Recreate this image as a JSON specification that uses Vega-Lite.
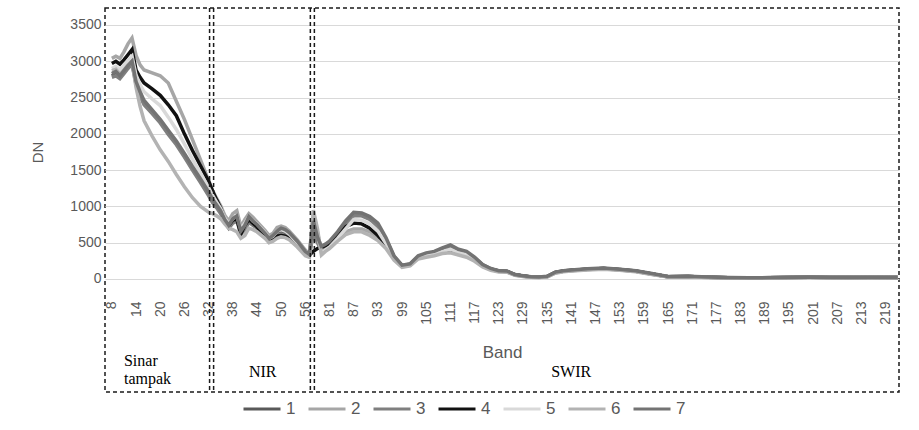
{
  "$schema": "https://vega.github.io/schema/vega-lite/v6.json",
  "width": 794,
  "height": 384,
  "autosize": {"type": "none"},
  "padding": {"left": 105, "top": 8, "right": 20, "bottom": 38},
  "background": "white",
  "config": {
    "font": "Liberation Sans",
    "view": {"stroke": "#1a1a1a", "strokeDash": [4, 3], "strokeWidth": 1.5}
  },
  "datasets": {
    "spectra": [
      {"band": 8, "1": 2800, "2": 3040, "3": 2780, "4": 2970, "5": 2900, "6": 2870, "7": 2830},
      {"band": 9, "1": 2830, "2": 3070, "3": 2800, "4": 3000, "5": 2930, "6": 2890, "7": 2860},
      {"band": 10, "1": 2780, "2": 3040, "3": 2760, "4": 2960, "5": 2880, "6": 2820, "7": 2800},
      {"band": 11, "1": 2850, "2": 3130, "3": 2830, "4": 3020, "5": 2950, "6": 2880, "7": 2870},
      {"band": 12, "1": 2920, "2": 3240, "3": 2900, "4": 3090, "5": 3010, "6": 2950, "7": 2940},
      {"band": 13, "1": 2980, "2": 3320, "3": 2960, "4": 3160, "5": 3070, "6": 3000, "7": 3000},
      {"band": 14, "1": 2700, "2": 3080, "3": 2680, "4": 2880, "5": 2810, "6": 2640, "7": 2720},
      {"band": 15, "1": 2560, "2": 2950, "3": 2520, "4": 2780, "5": 2680, "6": 2380, "7": 2580},
      {"band": 16, "1": 2440, "2": 2880, "3": 2400, "4": 2700, "5": 2580, "6": 2180, "7": 2460},
      {"band": 18, "1": 2300, "2": 2840, "3": 2280, "4": 2620, "5": 2480, "6": 1970, "7": 2330},
      {"band": 20, "1": 2180, "2": 2800, "3": 2150, "4": 2530, "5": 2390, "6": 1780, "7": 2200},
      {"band": 22, "1": 2020, "2": 2700, "3": 1990, "4": 2400, "5": 2230, "6": 1620, "7": 2050},
      {"band": 24, "1": 1880, "2": 2450, "3": 1850, "4": 2250, "5": 2060, "6": 1440, "7": 1900},
      {"band": 26, "1": 1710, "2": 2200, "3": 1680, "4": 2000, "5": 1860, "6": 1270, "7": 1730},
      {"band": 28, "1": 1530, "2": 1920, "3": 1500, "4": 1770, "5": 1650, "6": 1120, "7": 1550},
      {"band": 30, "1": 1360, "2": 1640, "3": 1330, "4": 1560, "5": 1460, "6": 1000, "7": 1380},
      {"band": 32, "1": 1180, "2": 1360, "3": 1150, "4": 1350, "5": 1260, "6": 920, "7": 1200},
      {"band": 33, "1": 1080, "2": 1220, "3": 1050, "4": 1210, "5": 1150, "6": 900, "7": 1100},
      {"band": 34, "1": 1000, "2": 1110, "3": 980, "4": 1090, "5": 1060, "6": 870, "7": 1020},
      {"band": 35, "1": 920, "2": 1010, "3": 900, "4": 980, "5": 970, "6": 830, "7": 940},
      {"band": 36, "1": 800, "2": 880, "3": 780, "4": 820, "5": 840, "6": 760, "7": 820},
      {"band": 37, "1": 720, "2": 800, "3": 700, "4": 740, "5": 760, "6": 700, "7": 740},
      {"band": 38, "1": 790, "2": 900, "3": 770, "4": 810, "5": 830, "6": 680, "7": 830},
      {"band": 39, "1": 830, "2": 940, "3": 800, "4": 830, "5": 870, "6": 650, "7": 870},
      {"band": 40, "1": 640, "2": 720, "3": 620, "4": 620, "5": 690, "6": 560, "7": 660},
      {"band": 41, "1": 700, "2": 820, "3": 680, "4": 740, "5": 770, "6": 600, "7": 740},
      {"band": 42, "1": 800, "2": 900, "3": 780, "4": 820, "5": 860, "6": 700, "7": 860},
      {"band": 43, "1": 760, "2": 850, "3": 740, "4": 770, "5": 800, "6": 680, "7": 800},
      {"band": 44, "1": 720, "2": 790, "3": 700, "4": 720, "5": 760, "6": 650, "7": 750},
      {"band": 46, "1": 600, "2": 670, "3": 580, "4": 590, "5": 640, "6": 560, "7": 630},
      {"band": 47, "1": 520, "2": 600, "3": 510, "4": 520, "5": 560, "6": 500, "7": 560},
      {"band": 48, "1": 560, "2": 630, "3": 540, "4": 540, "5": 590, "6": 520, "7": 600},
      {"band": 49, "1": 630, "2": 710, "3": 600, "4": 590, "5": 660, "6": 560, "7": 660},
      {"band": 50, "1": 650, "2": 730, "3": 620, "4": 600, "5": 680, "6": 580, "7": 700},
      {"band": 51, "1": 630, "2": 710, "3": 600, "4": 590, "5": 660, "6": 570, "7": 680},
      {"band": 52, "1": 590, "2": 660, "3": 560, "4": 560, "5": 620, "6": 540, "7": 640},
      {"band": 54, "1": 480, "2": 540, "3": 460, "4": 460, "5": 500, "6": 440, "7": 520},
      {"band": 56, "1": 360, "2": 400, "3": 350, "4": 360, "5": 380, "6": 320, "7": 380},
      {"band": 57, "1": 320, "2": 340, "3": 310, "4": 330, "5": 330, "6": 300, "7": 340},
      {"band": 77, "1": 700, "2": 900, "3": 650, "4": 380, "5": 880, "6": 950, "7": 800},
      {"band": 78, "1": 550, "2": 650, "3": 500, "4": 420, "5": 620, "6": 700, "7": 580},
      {"band": 79, "1": 420, "2": 380, "3": 400, "4": 440, "5": 360, "6": 330, "7": 450},
      {"band": 80, "1": 450, "2": 420, "3": 430, "4": 460, "5": 400, "6": 380, "7": 480},
      {"band": 81, "1": 490, "2": 460, "3": 470, "4": 490, "5": 440, "6": 420, "7": 520},
      {"band": 83, "1": 620, "2": 560, "3": 600, "4": 610, "5": 560, "6": 520, "7": 650},
      {"band": 85, "1": 770, "2": 650, "3": 750, "4": 720, "5": 690, "6": 610, "7": 800},
      {"band": 87, "1": 890, "2": 690, "3": 870, "4": 770, "5": 820, "6": 650, "7": 920},
      {"band": 89, "1": 890, "2": 690, "3": 870, "4": 760, "5": 810, "6": 650, "7": 910},
      {"band": 91, "1": 840, "2": 650, "3": 820, "4": 700, "5": 760, "6": 600, "7": 860},
      {"band": 93, "1": 740, "2": 570, "3": 720, "4": 600, "5": 660, "6": 530, "7": 770},
      {"band": 95, "1": 550, "2": 450, "3": 530, "4": 460, "5": 490, "6": 420, "7": 570},
      {"band": 97, "1": 310, "2": 280, "3": 300, "4": 290, "5": 290, "6": 260, "7": 320},
      {"band": 99, "1": 185, "2": 170, "3": 180, "4": 175, "5": 175, "6": 160, "7": 190},
      {"band": 101, "1": 205, "2": 190, "3": 200, "4": 195, "5": 195, "6": 180, "7": 210},
      {"band": 103, "1": 305, "2": 290, "3": 300, "4": 295, "5": 290, "6": 275, "7": 320},
      {"band": 105, "1": 345, "2": 320, "3": 340, "4": 330, "5": 325, "6": 300, "7": 360},
      {"band": 107, "1": 365, "2": 340, "3": 360, "4": 350, "5": 345, "6": 320, "7": 380},
      {"band": 109, "1": 415, "2": 370, "3": 400, "4": 380, "5": 380, "6": 350, "7": 430},
      {"band": 111, "1": 455, "2": 390, "3": 440, "4": 400, "5": 410, "6": 360, "7": 470},
      {"band": 113, "1": 400, "2": 350, "3": 390, "4": 360, "5": 365, "6": 330, "7": 410},
      {"band": 115, "1": 370, "2": 320, "3": 360, "4": 330, "5": 335, "6": 300, "7": 380},
      {"band": 117, "1": 290, "2": 260, "3": 285, "4": 270, "5": 265, "6": 245, "7": 300},
      {"band": 119, "1": 195, "2": 175, "3": 190, "4": 180, "5": 180, "6": 165, "7": 200},
      {"band": 121, "1": 140, "2": 130, "3": 140, "4": 135, "5": 130, "6": 120, "7": 145},
      {"band": 123, "1": 110, "2": 105, "3": 110, "4": 108, "5": 104, "6": 98, "7": 115},
      {"band": 125, "1": 105, "2": 100, "3": 105, "4": 103, "5": 100, "6": 95, "7": 110},
      {"band": 127, "1": 60, "2": 55, "3": 60, "4": 58, "5": 55, "6": 50, "7": 62},
      {"band": 129, "1": 42, "2": 38, "3": 42, "4": 40, "5": 38, "6": 35, "7": 45},
      {"band": 131, "1": 28, "2": 25, "3": 28, "4": 27, "5": 25, "6": 23, "7": 30},
      {"band": 133, "1": 25, "2": 22, "3": 25, "4": 24, "5": 22, "6": 20, "7": 27},
      {"band": 135, "1": 35, "2": 30, "3": 35, "4": 33, "5": 31, "6": 28, "7": 38},
      {"band": 137, "1": 90, "2": 85, "3": 90, "4": 88, "5": 85, "6": 80, "7": 95},
      {"band": 139, "1": 110, "2": 105, "3": 110, "4": 108, "5": 105, "6": 100, "7": 115},
      {"band": 141, "1": 120, "2": 115, "3": 120, "4": 118, "5": 115, "6": 110, "7": 125},
      {"band": 145, "1": 135, "2": 130, "3": 135, "4": 133, "5": 130, "6": 125, "7": 140},
      {"band": 149, "1": 145, "2": 140, "3": 145, "4": 143, "5": 140, "6": 135, "7": 150},
      {"band": 153, "1": 130, "2": 125, "3": 130, "4": 128, "5": 125, "6": 120, "7": 135},
      {"band": 157, "1": 110, "2": 105, "3": 110, "4": 108, "5": 105, "6": 100, "7": 115},
      {"band": 161, "1": 70, "2": 65, "3": 70, "4": 68, "5": 65, "6": 60, "7": 75},
      {"band": 165, "1": 32, "2": 30, "3": 32, "4": 31, "5": 30, "6": 28, "7": 34},
      {"band": 170, "1": 35, "2": 32, "3": 35, "4": 34, "5": 32, "6": 30, "7": 37},
      {"band": 175, "1": 25, "2": 22, "3": 25, "4": 24, "5": 22, "6": 20, "7": 27},
      {"band": 180, "1": 18, "2": 16, "3": 18, "4": 17, "5": 16, "6": 14, "7": 19},
      {"band": 185, "1": 15, "2": 13, "3": 15, "4": 14, "5": 13, "6": 12, "7": 16},
      {"band": 190, "1": 18, "2": 16, "3": 18, "4": 17, "5": 16, "6": 14, "7": 19},
      {"band": 195, "1": 22, "2": 20, "3": 22, "4": 21, "5": 20, "6": 18, "7": 23},
      {"band": 200, "1": 24, "2": 22, "3": 24, "4": 23, "5": 22, "6": 20, "7": 25},
      {"band": 205, "1": 22, "2": 20, "3": 22, "4": 21, "5": 20, "6": 18, "7": 23},
      {"band": 210, "1": 20, "2": 18, "3": 20, "4": 19, "5": 18, "6": 16, "7": 21},
      {"band": 215, "1": 22, "2": 20, "3": 22, "4": 21, "5": 20, "6": 18, "7": 23},
      {"band": 222, "1": 20, "2": 18, "3": 20, "4": 19, "5": 18, "6": 16, "7": 21}
    ],
    "dividers": [{"band": 32}, {"band": 33}, {"band": 57}, {"band": 77}],
    "regions": [
      {"band": 11, "DN": -1199, "label": "Sinar\ntampak"},
      {"band": 42, "DN": -1350, "label": "NIR"},
      {"band": 136, "DN": -1350, "label": "SWIR"}
    ]
  },
  "encoding": {
    "x": {
      "field": "band",
      "type": "ordinal",
      "scale": {
        "type": "point",
        "padding": 2.475,
        "align": 0.85,
        "domain": [8,9,10,11,12,13,14,15,16,17,18,19,20,21,22,23,24,25,26,27,28,29,30,31,32,33,34,35,36,37,38,39,40,41,42,43,44,45,46,47,48,49,50,51,52,53,54,55,56,57,77,78,79,80,81,82,83,84,85,86,87,88,89,90,91,92,93,94,95,96,97,98,99,100,101,102,103,104,105,106,107,108,109,110,111,112,113,114,115,116,117,118,119,120,121,122,123,124,125,126,127,128,129,130,131,132,133,134,135,136,137,138,139,140,141,142,143,144,145,146,147,148,149,150,151,152,153,154,155,156,157,158,159,160,161,162,163,164,165,166,167,168,169,170,171,172,173,174,175,176,177,178,179,180,181,182,183,184,185,186,187,188,189,190,191,192,193,194,195,196,197,198,199,200,201,202,203,204,205,206,207,208,209,210,211,212,213,214,215,216,217,218,219,220,221,222]
      },
      "axis": {
        "orient": "bottom",
        "offset": -113,
        "values": [8,14,20,26,32,38,44,50,56,81,87,93,99,105,111,117,123,129,135,141,147,153,159,165,171,177,183,189,195,201,207,213,219],
        "labelAngle": -90,
        "labelPadding": 22,
        "labelFontSize": 14,
        "labelColor": "#595959",
        "ticks": false,
        "domain": false,
        "grid": false,
        "title": "Band",
        "titleFontSize": 17,
        "titleFontWeight": "normal",
        "titleColor": "#595959",
        "titlePadding": 20
      }
    }
  },
  "layer": [
    {
      "data": {"name": "spectra"},
      "transform": [{"fold": ["1", "2", "3", "4", "5", "6", "7"], "as": ["seri", "DN"]}],
      "mark": {"type": "line", "strokeWidth": 3.5},
      "encoding": {
        "y": {
          "field": "DN",
          "type": "quantitative",
          "scale": {"domain": [-1557, 3734], "nice": false, "zero": false},
          "axis": {
            "values": [0, 500, 1000, 1500, 2000, 2500, 3000, 3500],
            "format": "d",
            "grid": true,
            "gridColor": "#d9d9d9",
            "gridWidth": 1,
            "domain": false,
            "ticks": false,
            "labelPadding": 4,
            "labelFontSize": 14,
            "labelColor": "#595959",
            "title": "DN",
            "titleFontSize": 15,
            "titleFontWeight": "normal",
            "titleColor": "#595959",
            "titleX": -60,
            "titleY": 144
          }
        },
        "color": {
          "field": "seri",
          "type": "nominal",
          "scale": {
            "domain": ["1", "2", "3", "4", "5", "6", "7"],
            "range": ["#595959", "#a6a6a6", "#7f7f7f", "#111111", "#d9d9d9", "#b3b3b3", "#737373"]
          },
          "legend": {
            "orient": "none",
            "legendX": 137,
            "legendY": 381,
            "direction": "horizontal",
            "title": null,
            "symbolType": "stroke",
            "symbolSize": 1369,
            "symbolStrokeWidth": 3,
            "labelFontSize": 17,
            "labelColor": "#595959",
            "labelOffset": 4,
            "columnPadding": 6,
            "padding": 0
          }
        }
      }
    },
    {
      "data": {"name": "dividers"},
      "mark": {"type": "rule", "color": "#1a1a1a", "strokeDash": [4, 3], "strokeWidth": 1.5, "xOffset": 1},
      "encoding": {}
    },
    {
      "data": {"name": "regions"},
      "mark": {"type": "text", "align": "left", "baseline": "alphabetic", "font": "Liberation Serif", "fontSize": 16, "color": "#000000", "lineBreak": "\n", "lineHeight": 18},
      "encoding": {
        "y": {"field": "DN", "type": "quantitative"},
        "text": {"field": "label", "type": "nominal"}
      }
    }
  ]
}
